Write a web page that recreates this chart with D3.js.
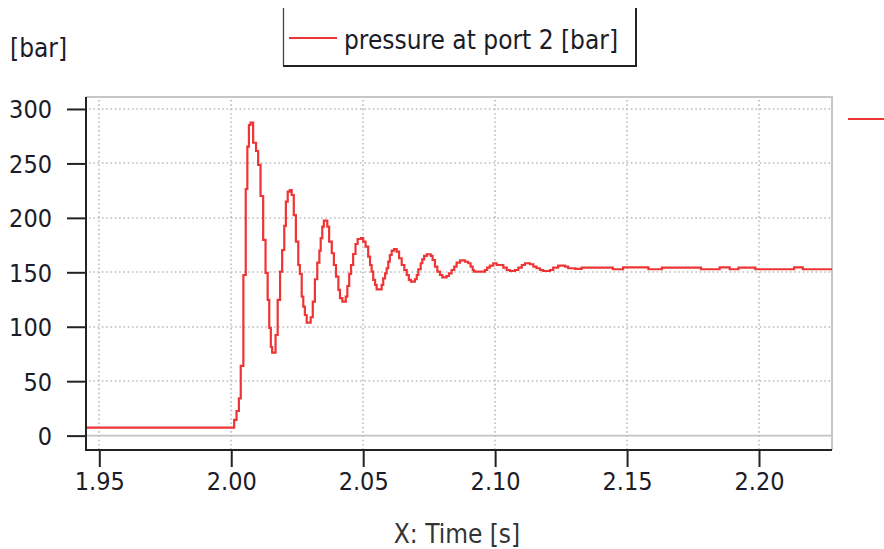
<!DOCTYPE html>
<html>
<head>
<meta charset="utf-8">
<script src="https://cdn.jsdelivr.net/npm/d3@7"></script>
<style>
    html, body { margin: 0; padding: 0; background: #fff; }
    svg { display: block; }
    .lbl { font-family: 'DejaVu Sans Condensed', 'DejaVu Sans', sans-serif; font-stretch: condensed; fill: #1c1c28; }
</style>
</head>
<body>
<div id="container"><svg></svg></div>
<script>
// pressure at port 2 (step output of the solver)
var timeSec = [1.9400, 2.0011, 2.0020, 2.0029, 2.0036, 2.0046, 2.0055, 2.0061, 2.0067, 2.0073,
    2.0083, 2.0094, 2.0102, 2.0111, 2.0121, 2.0130, 2.0138, 2.0144, 2.0150, 2.0155,
    2.0168, 2.0176, 2.0185, 2.0193, 2.0201, 2.0207, 2.0214, 2.0222, 2.0229, 2.0237,
    2.0245, 2.0254, 2.0260, 2.0267, 2.0273, 2.0279, 2.0286, 2.0301, 2.0309, 2.0317,
    2.0326, 2.0334, 2.0339, 2.0345, 2.0351, 2.0364, 2.0371, 2.0381, 2.0389, 2.0397,
    2.0406, 2.0412, 2.0421, 2.0434, 2.0440, 2.0447, 2.0454, 2.0462, 2.0471, 2.0479,
    2.0492, 2.0500, 2.0509, 2.0519, 2.0526, 2.0532, 2.0538, 2.0545, 2.0551, 2.0570,
    2.0576, 2.0583, 2.0589, 2.0595, 2.0601, 2.0608, 2.0617, 2.0627, 2.0636, 2.0646,
    2.0656, 2.0665, 2.0673, 2.0681, 2.0696, 2.0703, 2.0709, 2.0718, 2.0724, 2.0731,
    2.0741, 2.0756, 2.0763, 2.0772, 2.0781, 2.0791, 2.0800, 2.0816, 2.0825, 2.0835,
    2.0845, 2.0854, 2.0867, 2.0886, 2.0898, 2.0907, 2.0915, 2.0920, 2.0962, 2.0970,
    2.0980, 2.0993, 2.1006, 2.1031, 2.1044, 2.1056, 2.1075, 2.1088, 2.1101, 2.1113,
    2.1132, 2.1145, 2.1157, 2.1170, 2.1182, 2.1208, 2.1220, 2.1239, 2.1265, 2.1277,
    2.1303, 2.1328, 2.1446, 2.1485, 2.1581, 2.1632, 2.1780, 2.1851, 2.1889, 2.1922,
    2.1986, 2.2133, 2.2166, 2.2300];

var pressureBar = [7.3, 14.4, 22.6, 34.3, 64.0, 147.5, 226.5, 265.4, 285.3, 287.4,
    269.0, 261.4, 248.6, 220.1, 179.7, 149.4, 124.6, 98.9, 81.4, 76.2,
    92.4, 124.6, 150.6, 170.5, 192.6, 214.9, 224.1, 225.6, 221.0, 202.6,
    178.1, 156.7, 148.5, 127.6, 118.4, 110.8, 103.7, 108.7, 123.0, 143.6,
    158.8, 169.9, 181.3, 191.9, 197.4, 191.9, 178.1, 167.5, 156.7, 146.0,
    133.8, 126.2, 123.0, 127.6, 137.4, 148.5, 156.7, 166.8, 176.0, 180.6,
    181.3, 178.1, 173.5, 164.4, 156.7, 150.6, 143.0, 138.4, 134.4, 138.4,
    144.5, 149.1, 153.7, 159.8, 165.9, 169.9, 171.4, 168.9, 162.9, 156.7,
    152.1, 147.5, 143.0, 141.4, 143.6, 147.5, 152.8, 158.3, 161.9, 165.0,
    166.6, 165.0, 161.3, 155.2, 150.6, 147.5, 145.4, 146.6, 149.1, 152.1,
    155.2, 158.8, 161.0, 159.7, 158.3, 155.2, 152.1, 150.6, 152.1, 154.3,
    156.1, 158.3, 156.7, 154.3, 152.1, 151.2, 152.1, 154.3, 156.7, 158.3,
    157.4, 155.2, 153.7, 152.1, 151.2, 152.1, 154.3, 156.1, 155.2, 153.7,
    153.1, 154.3, 152.8, 154.6, 152.8, 154.3, 152.8, 154.6, 152.8, 154.3,
    152.8, 154.6, 152.8, 152.8];

var xMajorTicks = [1.95, 2.00, 2.05, 2.10, 2.15, 2.20];
var xMinorTicks = [1.96, 1.97, 1.98, 1.99, 2.01, 2.02, 2.03, 2.04, 2.06, 2.07, 2.08, 2.09,
    2.11, 2.12, 2.13, 2.14, 2.16, 2.17, 2.18, 2.19, 2.21, 2.22];
var yMajorTicks = [0, 50, 100, 150, 200, 250, 300];
var yMinorTicks = [-10, 10, 20, 30, 40, 60, 70, 80, 90, 110, 120, 130, 140, 160, 170, 180, 190,
    210, 220, 230, 240, 260, 270, 280, 290, 310];

var seriesName = 'pressure at port 2 [bar]';
var yUnit = '[bar]';
var xTitle = 'X: Time [s]';

var RED = '#ee3434';
var W = 884, H = 549;
var plot = { left: 86, right: 832, top: 97, bottom: 450 };

function main() {
    var svg = d3.select('#container svg').attr('width', W).attr('height', H);

    var x = d3.scaleLinear().domain([1.94496, 2.22766]).range([plot.left, plot.right]);
    var y = d3.scaleLinear().domain([-13.2, 311.0]).range([plot.bottom, plot.top]);

    svg.append('defs').append('clipPath').attr('id', 'plotclip')
        .append('rect')
        .attr('x', plot.left).attr('y', plot.top)
        .attr('width', plot.right - plot.left).attr('height', plot.bottom - plot.top);

    // dotted grid
    var grid = svg.append('g').attr('stroke', '#bcbcbc').attr('stroke-width', 1.6)
        .attr('stroke-dasharray', '1.6,2.7');
    grid.selectAll('line.gx').data(xMajorTicks).enter().append('line')
        .attr('x1', function(d) { return Math.round(x(d)); })
        .attr('x2', function(d) { return Math.round(x(d)); })
        .attr('y1', plot.top + 3).attr('y2', plot.bottom);
    grid.selectAll('line.gy').data(yMajorTicks.filter(function(d) { return d !== 0; })).enter().append('line')
        .attr('x1', plot.left + 3).attr('x2', plot.right)
        .attr('y1', function(d) { return Math.round(y(d)); })
        .attr('y2', function(d) { return Math.round(y(d)); });

    // zero line
    svg.append('line')
        .attr('x1', plot.left).attr('x2', plot.right)
        .attr('y1', y(0)).attr('y2', y(0))
        .attr('stroke', '#c2c2c2').attr('stroke-width', 1.6);

    // top/right frame
    svg.append('path')
        .attr('d', 'M' + plot.left + ',' + plot.top + 'H' + plot.right + 'V' + plot.bottom)
        .attr('fill', 'none').attr('stroke', '#c6c6c6').attr('stroke-width', 2);

    // series
    var data = d3.zip(timeSec, pressureBar);
    var line = d3.line()
        .x(function(d) { return x(d[0]); })
        .y(function(d) { return y(d[1]); })
        .curve(d3.curveStepAfter);
    svg.append('path')
        .datum(data)
        .attr('clip-path', 'url(#plotclip)')
        .attr('d', line)
        .attr('fill', 'none')
        .attr('stroke', RED)
        .attr('stroke-width', 2.2);

    // axes
    var yAxis = svg.append('g').attr('transform', 'translate(' + plot.left + ',0)');
    yAxis.call(d3.axisLeft(y).tickValues(yMinorTicks).tickSize(9).tickSizeOuter(0).tickFormat(''));
    yAxis.call(d3.axisLeft(y).tickValues(yMajorTicks).tickSize(19).tickSizeOuter(0).tickPadding(15));
    var xAxis = svg.append('g').attr('transform', 'translate(0,' + plot.bottom + ')');
    xAxis.call(d3.axisBottom(x).tickValues(xMinorTicks).tickSize(7).tickSizeOuter(0).tickFormat(''));
    xAxis.call(d3.axisBottom(x).tickValues(xMajorTicks).tickSize(17).tickSizeOuter(0).tickPadding(5)
        .tickFormat(d3.format('.2f')));

    svg.selectAll('.domain').remove();
    svg.selectAll('.tick line').attr('stroke', '#222').attr('stroke-width', 2);
    svg.selectAll('.tick text').attr('class', 'lbl').attr('font-size', 25);
    yAxis.selectAll('.tick text').attr('dy', '0.36em');

    svg.append('path')
        .attr('d', 'M' + plot.left + ',' + plot.top + 'V' + plot.bottom + 'H' + plot.right)
        .attr('fill', 'none').attr('stroke', '#222').attr('stroke-width', 2);

    // unit label and x title
    svg.append('text').attr('class', 'lbl')
        .attr('x', 10).attr('y', 57).attr('font-size', 26)
        .text(yUnit);
    svg.append('text').attr('class', 'lbl')
        .attr('x', 457).attr('y', 543).attr('text-anchor', 'middle')
        .attr('font-size', 26).style('fill', '#333')
        .text(xTitle);

    // legend (top edge cut off)
    var lg = svg.append('g');
    lg.append('path')
        .attr('d', 'M283.5,8V66')
        .attr('stroke', '#444').attr('stroke-width', 1.3).attr('fill', 'none');
    lg.append('path')
        .attr('d', 'M283,66H636V8')
        .attr('stroke', '#222').attr('stroke-width', 2).attr('fill', 'none');
    lg.append('line')
        .attr('x1', 289).attr('x2', 337).attr('y1', 38).attr('y2', 38)
        .attr('stroke', RED).attr('stroke-width', 2);
    lg.append('text').attr('class', 'lbl')
        .attr('x', 344).attr('y', 49).attr('font-size', 26)
        .text(seriesName);

    // stub of the next legend entry at the right edge
    svg.append('line')
        .attr('x1', 848).attr('x2', 884).attr('y1', 119).attr('y2', 119)
        .attr('stroke', RED).attr('stroke-width', 2);
}

main();
</script>
</body>
</html>
